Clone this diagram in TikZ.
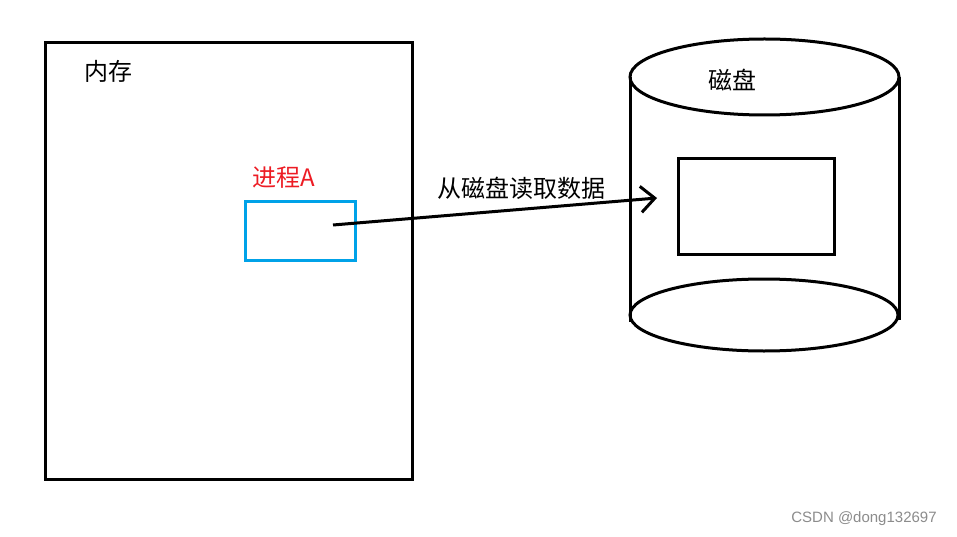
\documentclass[tikz,border=0pt]{standalone}
\usepackage{fontspec}
\newfontfamily\cjk{Noto Sans CJK SC}
\setsansfont{Liberation Sans}
\usetikzlibrary{arrows.meta}
\definecolor{procred}{RGB}{237,28,36}
\definecolor{procblue}{RGB}{0,162,232}
\begin{document}
\begin{tikzpicture}[x=1pt,y=-1pt]
		\tikzstyle{box}=[draw=black, line width=3pt]
		\tikzstyle{label}=[font=\cjk\fontsize{24}{26}\selectfont, inner sep=0pt]
		\tikzstyle{edge}=[draw=black, line width=3pt, -{Straight Barb[length=14pt,width=26pt,line width=3pt]}]

		\useasboundingbox[fill=white] (0,0) rectangle (957,537);

		% memory
		\node [box, minimum width=367pt, minimum height=437pt, anchor=north west] (mem) at (44,41) {};
		\node [label] (memtext) at (108,71) {内存};

		% process
		\node [label, text=procred] (proctext) at (284,178) {进程A};
		\node [box, draw=procblue, minimum width=110pt, minimum height=59pt, anchor=north west] (proc) at (244,200) {};

		% disk
		\draw [line width=3pt] (630,77) -- (630,322);
		\draw [line width=3pt] (899,77) -- (899,320);
		\draw [line width=3pt] (764.5,77) ellipse [x radius=134.5pt, y radius=38pt];
		\draw [line width=3pt] (764,315) ellipse [x radius=134pt, y radius=36pt];
		\node [label] (disktext) at (732,80) {磁盘};
		\node [box, minimum width=156pt, minimum height=96pt, anchor=north west] (blk) at (677,157) {};

		% read
		\coordinate (src) at (333,225);
		\coordinate (dst) at (657,198);
		\path [edge] (src) -- (dst);
		\node [label] (readtext) at (521,188) {从磁盘读取数据};

		\node [font=\sffamily\fontsize{15}{17}\selectfont, text=black!45, inner sep=0pt] (mark) at (864,519) {CSDN @dong132697};

\end{tikzpicture}
\end{document}
